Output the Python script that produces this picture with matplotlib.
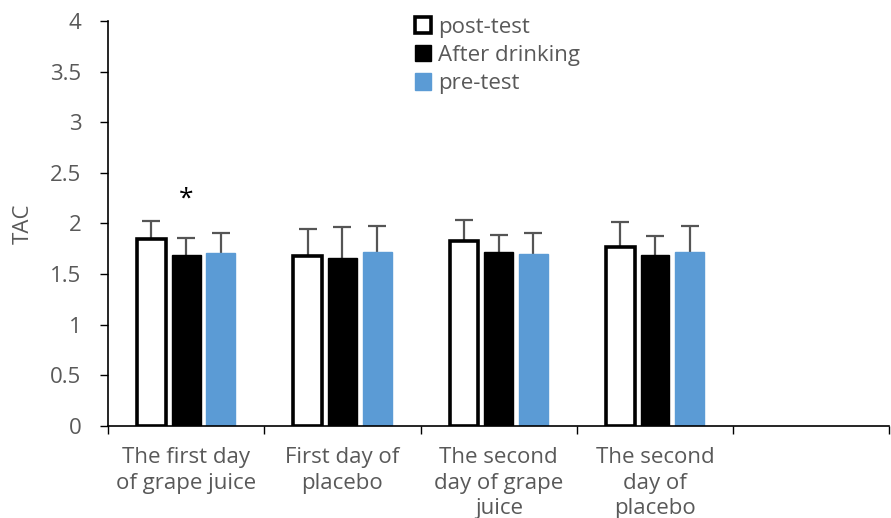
import matplotlib
matplotlib.use("Agg")
import matplotlib.pyplot as plt
import numpy as np

categories = ["The first day\nof grape juice", "First day of\nplacebo",
              "The second\nday of grape\njuice", "The second\nday of\nplacebo", ""]
series_names = ["post-test", "After drinking", "pre-test"]
post_test = [1.85, 1.68, 1.83, 1.77]
post_test_err = [0.17, 0.27, 0.20, 0.24]
after_drinking = [1.69, 1.66, 1.72, 1.69]
after_drinking_err = [0.17, 0.31, 0.17, 0.19]
pre_test = [1.71, 1.72, 1.70, 1.72]
pre_test_err = [0.20, 0.26, 0.21, 0.26]
yticks = [0, 0.5, 1, 1.5, 2, 2.5, 3, 3.5, 4]
ytick_labels = ["0", "0.5", "1", "1.5", "2", "2.5", "3", "3.5", "4"]

plt.rcParams['font.family'] = ['Open Sans', 'DejaVu Sans']
text_gray = "#595959"

fig = plt.figure(figsize=(8.91, 5.18), dpi=100)
ax = fig.add_axes([0.1212, 0.1776, 0.877, 0.7819])

x = np.arange(len(post_test))
width = 0.185
step = 0.222


def bars_with_upper_error(xpos, vals, errs, face, edge, lw, label):
    ax.bar(xpos, vals, width, facecolor=face, edgecolor=edge, linewidth=lw,
           label=label, zorder=2)
    tops = np.array(vals) + np.array(errs)
    ax.vlines(xpos, vals, tops, colors="#555555", linewidth=1.6, zorder=1)
    ax.plot(xpos, tops, linestyle="none", marker="_", markersize=13,
            markeredgewidth=1.6, color="#555555", zorder=1)


bars_with_upper_error(x - step, post_test, post_test_err, "white", "black", 2.6,
                      series_names[0])
bars_with_upper_error(x, after_drinking, after_drinking_err, "black", "black", 1,
                      series_names[1])
bars_with_upper_error(x + step, pre_test, pre_test_err, "#5B9BD5", "#5B9BD5", 1,
                      series_names[2])

# significance marker above the first "After drinking" bar
ax.text(x[0], 2.24, "*", ha="center", va="center", fontsize=19, color="black")

ax.set_xlim(-0.5, len(categories) - 0.5)
ax.set_ylim(0, 4)
ax.set_yticks(yticks)
ax.set_yticklabels(ytick_labels, fontsize=16, color=text_gray)
ax.set_xticks(np.arange(len(categories) + 1) - 0.5, minor=False)
ax.set_xticklabels([""] * (len(categories) + 1))
ax.set_xticks(np.arange(len(categories)), minor=True)
ax.set_xticklabels(categories, minor=True, fontsize=16, color=text_gray,
                   linespacing=1.3)
ax.tick_params(axis="x", which="minor", length=0, pad=15)
ax.tick_params(axis="x", which="major", length=6, direction="out", width=1)
ax.tick_params(axis="y", length=6, direction="out", width=1, pad=13)
for s in ["top", "right"]:
    ax.spines[s].set_visible(False)
for s in ["left", "bottom"]:
    ax.spines[s].set_linewidth(1.2)

ax.set_ylabel("TAC", fontsize=16, color=text_gray, labelpad=12)

leg = ax.legend(loc="upper left", bbox_to_anchor=(0.367, 1.06), frameon=False,
                fontsize=16, handlelength=0.75, handleheight=0.75,
                handletextpad=0.3, labelspacing=0.33)
for t in leg.get_texts():
    t.set_color(text_gray)

fig.savefig("out.png", dpi=100)
